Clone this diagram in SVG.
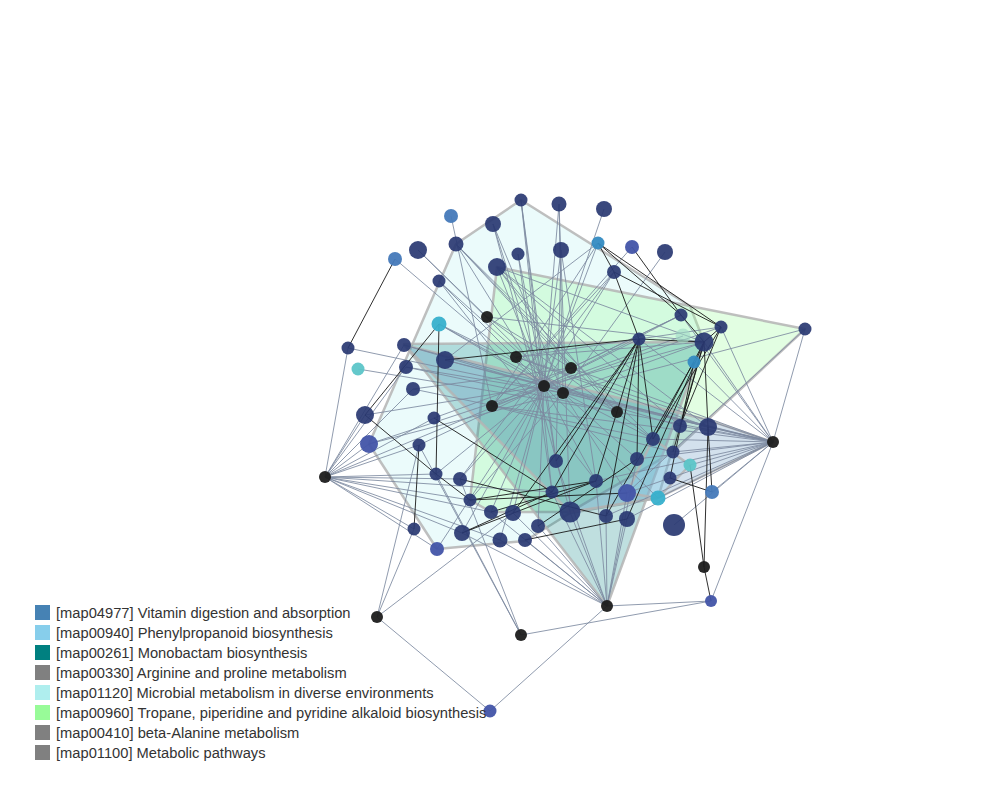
<svg xmlns="http://www.w3.org/2000/svg" width="1000" height="800" viewBox="0 0 1000 800">
<style>
.hull{stroke:#b4b4b4;stroke-width:2.5;stroke-opacity:0.85;stroke-linejoin:round}
.g line{stroke:#7d8aa0;stroke-width:1;stroke-opacity:0.85}
.k line{stroke:#1a1a1a;stroke-width:1;stroke-opacity:0.9}
.nv{fill:#293872;fill-opacity:0.92}
.bk{fill:#1c1c1c;fill-opacity:0.95}
.sb{fill:#4479b9;fill-opacity:0.95}
.cb{fill:#348bc2;fill-opacity:0.95}
.mb{fill:#4254a8;fill-opacity:0.95}
.cy{fill:#37b0cc;fill-opacity:0.95}
.tl{fill:#5cc5c8;fill-opacity:0.95}
.fd{fill:#9fd8c4;fill-opacity:0.6}
.lg{font-family:"Liberation Sans",Arial,sans-serif;font-size:14.7px;fill:#333}
</style>
<rect width="1000" height="800" fill="#fff"/>
<g id="hulls">
<polygon class="hull" fill="#afeeee" fill-opacity="0.25" points="521,200 690,306 704,342 658,498 570,513 525,541 437,549 369,444 456,244"/>
<polygon class="hull" fill="#98fb98" fill-opacity="0.28" points="497,267 690,306 805,329 673,452 570,512 491,512 470,500"/>
<polygon class="hull" fill="#008080" fill-opacity="0.25" points="404,344 704,342 607,606"/>
<polygon class="hull" fill="#4682b4" fill-opacity="0.24" points="404,345 708,420 773,442 658,498 570,512"/>
<polygon class="hull" fill="#87ceeb" fill-opacity="0.3" points="653,439 690,465 658,498 627,493"/>
</g>
<g id="connectors">
<g class="g">
<line x1="521" y1="200" x2="544" y2="386"/><line x1="521" y1="200" x2="556" y2="461"/><line x1="521" y1="200" x2="552" y2="492"/>
<line x1="559" y1="204" x2="544" y2="386"/><line x1="559" y1="204" x2="563" y2="393"/><line x1="559" y1="204" x2="570" y2="512"/>
<line x1="604" y1="209" x2="544" y2="386"/>
<line x1="451" y1="216" x2="492" y2="406"/>
<line x1="493" y1="224" x2="544" y2="386"/><line x1="493" y1="224" x2="570" y2="512"/><line x1="493" y1="224" x2="563" y2="393"/>
<line x1="418" y1="250" x2="487" y2="317"/><line x1="418" y1="250" x2="563" y2="393"/>
<line x1="456" y1="244" x2="544" y2="386"/><line x1="456" y1="244" x2="617" y2="412"/><line x1="456" y1="244" x2="571" y2="368"/><line x1="456" y1="244" x2="653" y2="439"/>
<line x1="518" y1="254" x2="544" y2="386"/><line x1="518" y1="254" x2="552" y2="492"/>
<line x1="561" y1="250" x2="544" y2="386"/><line x1="561" y1="250" x2="556" y2="461"/><line x1="561" y1="250" x2="596" y2="481"/>
<line x1="598" y1="243" x2="544" y2="386"/><line x1="598" y1="243" x2="492" y2="406"/><line x1="598" y1="243" x2="445" y2="360"/>
<line x1="632" y1="247" x2="492" y2="406"/>
<line x1="665" y1="252" x2="563" y2="393"/>
<line x1="395" y1="259" x2="544" y2="386"/>
<line x1="497" y1="267" x2="544" y2="386"/><line x1="497" y1="267" x2="617" y2="412"/><line x1="497" y1="267" x2="571" y2="368"/><line x1="497" y1="267" x2="680" y2="426"/><line x1="497" y1="267" x2="708" y2="427"/><line x1="497" y1="267" x2="704" y2="342"/>
<line x1="439" y1="281" x2="544" y2="386"/><line x1="439" y1="281" x2="563" y2="393"/><line x1="439" y1="281" x2="596" y2="481"/>
<line x1="614" y1="272" x2="544" y2="386"/><line x1="614" y1="272" x2="492" y2="406"/><line x1="614" y1="272" x2="460" y2="479"/>
<line x1="487" y1="317" x2="571" y2="368"/><line x1="487" y1="317" x2="704" y2="342"/><line x1="487" y1="317" x2="653" y2="439"/>
<line x1="439" y1="324" x2="544" y2="386"/><line x1="439" y1="324" x2="563" y2="393"/><line x1="439" y1="324" x2="617" y2="412"/>
<line x1="348" y1="348" x2="325" y2="477"/><line x1="348" y1="348" x2="563" y2="393"/>
<line x1="404" y1="345" x2="325" y2="477"/><line x1="404" y1="345" x2="544" y2="386"/><line x1="404" y1="345" x2="708" y2="427"/>
<line x1="445" y1="360" x2="544" y2="386"/><line x1="445" y1="360" x2="773" y2="442"/>
<line x1="358" y1="369" x2="617" y2="412"/>
<line x1="406" y1="367" x2="325" y2="477"/><line x1="406" y1="367" x2="563" y2="393"/><line x1="406" y1="367" x2="617" y2="412"/>
<line x1="413" y1="389" x2="325" y2="477"/><line x1="413" y1="389" x2="571" y2="368"/><line x1="413" y1="389" x2="653" y2="439"/>
<line x1="365" y1="415" x2="325" y2="477"/><line x1="365" y1="415" x2="544" y2="386"/>
<line x1="434" y1="418" x2="325" y2="477"/><line x1="434" y1="418" x2="571" y2="368"/>
<line x1="369" y1="444" x2="325" y2="477"/><line x1="369" y1="444" x2="544" y2="386"/><line x1="369" y1="444" x2="563" y2="393"/>
<line x1="419" y1="445" x2="325" y2="477"/><line x1="419" y1="445" x2="544" y2="386"/>
<line x1="681" y1="315" x2="773" y2="442"/><line x1="681" y1="315" x2="492" y2="406"/><line x1="681" y1="315" x2="544" y2="386"/>
<line x1="721" y1="327" x2="773" y2="442"/><line x1="721" y1="327" x2="492" y2="406"/>
<line x1="683" y1="336" x2="544" y2="386"/>
<line x1="704" y1="342" x2="773" y2="442"/><line x1="704" y1="342" x2="544" y2="386"/><line x1="704" y1="342" x2="563" y2="393"/>
<line x1="639" y1="339" x2="773" y2="442"/><line x1="639" y1="339" x2="544" y2="386"/>
<line x1="694" y1="362" x2="773" y2="442"/>
<line x1="805" y1="329" x2="773" y2="442"/><line x1="805" y1="329" x2="627" y2="493"/><line x1="805" y1="329" x2="563" y2="393"/>
<line x1="708" y1="427" x2="773" y2="442"/><line x1="708" y1="427" x2="544" y2="386"/>
<line x1="680" y1="426" x2="773" y2="442"/><line x1="680" y1="426" x2="544" y2="386"/>
<line x1="653" y1="439" x2="773" y2="442"/><line x1="653" y1="439" x2="563" y2="393"/>
<line x1="673" y1="452" x2="773" y2="442"/><line x1="673" y1="452" x2="492" y2="406"/>
<line x1="690" y1="465" x2="773" y2="442"/>
<line x1="637" y1="459" x2="773" y2="442"/><line x1="637" y1="459" x2="563" y2="393"/><line x1="637" y1="459" x2="607" y2="606"/>
<line x1="556" y1="461" x2="544" y2="386"/><line x1="556" y1="461" x2="607" y2="606"/>
<line x1="596" y1="481" x2="773" y2="442"/><line x1="596" y1="481" x2="607" y2="606"/><line x1="596" y1="481" x2="544" y2="386"/>
<line x1="627" y1="493" x2="773" y2="442"/><line x1="627" y1="493" x2="607" y2="606"/><line x1="627" y1="493" x2="563" y2="393"/>
<line x1="712" y1="492" x2="773" y2="442"/>
<line x1="658" y1="498" x2="773" y2="442"/><line x1="658" y1="498" x2="544" y2="386"/>
<line x1="674" y1="525" x2="773" y2="442"/>
<line x1="325" y1="477" x2="436" y2="474"/><line x1="325" y1="477" x2="460" y2="479"/><line x1="325" y1="477" x2="470" y2="500"/><line x1="325" y1="477" x2="491" y2="512"/><line x1="325" y1="477" x2="462" y2="533"/><line x1="325" y1="477" x2="500" y2="540"/><line x1="325" y1="477" x2="414" y2="529"/><line x1="325" y1="477" x2="437" y2="549"/><line x1="325" y1="477" x2="544" y2="386"/><line x1="325" y1="477" x2="552" y2="492"/>
<line x1="436" y1="474" x2="544" y2="386"/>
<line x1="460" y1="479" x2="544" y2="386"/><line x1="460" y1="479" x2="521" y2="635"/>
<line x1="470" y1="500" x2="563" y2="393"/>
<line x1="552" y1="492" x2="607" y2="606"/>
<line x1="491" y1="512" x2="544" y2="386"/><line x1="491" y1="512" x2="607" y2="606"/>
<line x1="513" y1="513" x2="544" y2="386"/><line x1="513" y1="513" x2="607" y2="606"/>
<line x1="570" y1="512" x2="607" y2="606"/>
<line x1="606" y1="516" x2="607" y2="606"/><line x1="606" y1="516" x2="773" y2="442"/>
<line x1="627" y1="519" x2="607" y2="606"/><line x1="627" y1="519" x2="773" y2="442"/>
<line x1="538" y1="526" x2="544" y2="386"/><line x1="538" y1="526" x2="607" y2="606"/>
<line x1="462" y1="533" x2="607" y2="606"/><line x1="462" y1="533" x2="544" y2="386"/>
<line x1="500" y1="540" x2="607" y2="606"/><line x1="500" y1="540" x2="544" y2="386"/>
<line x1="525" y1="540" x2="607" y2="606"/>
<line x1="414" y1="529" x2="377" y2="617"/>
<line x1="437" y1="549" x2="544" y2="386"/>
<line x1="607" y1="606" x2="490" y2="711"/><line x1="607" y1="606" x2="711" y2="601"/>
<line x1="711" y1="601" x2="773" y2="442"/><line x1="711" y1="601" x2="521" y2="635"/>
<line x1="377" y1="617" x2="490" y2="711"/><line x1="377" y1="617" x2="419" y2="445"/><line x1="377" y1="617" x2="513" y2="513"/>
<line x1="521" y1="635" x2="436" y2="474"/><line x1="521" y1="635" x2="419" y2="445"/>
<line x1="516" y1="357" x2="708" y2="427"/><line x1="516" y1="357" x2="773" y2="442"/><line x1="516" y1="357" x2="704" y2="342"/><line x1="516" y1="357" x2="721" y2="327"/>
<line x1="571" y1="368" x2="773" y2="442"/><line x1="571" y1="368" x2="681" y2="315"/>
<line x1="544" y1="386" x2="773" y2="442"/><line x1="563" y1="393" x2="773" y2="442"/><line x1="492" y1="406" x2="773" y2="442"/><line x1="617" y1="412" x2="773" y2="442"/>
</g>
<g class="k">
<line x1="395" y1="259" x2="348" y2="348"/>
<line x1="439" y1="324" x2="365" y2="415"/><line x1="439" y1="324" x2="436" y2="474"/>
<line x1="365" y1="415" x2="436" y2="474"/><line x1="436" y1="474" x2="470" y2="500"/>
<line x1="470" y1="500" x2="627" y2="493"/><line x1="470" y1="500" x2="596" y2="481"/>
<line x1="434" y1="418" x2="552" y2="492"/>
<line x1="419" y1="445" x2="414" y2="529"/>
<line x1="445" y1="360" x2="639" y2="339"/>
<line x1="598" y1="243" x2="614" y2="272"/><line x1="598" y1="243" x2="681" y2="315"/><line x1="598" y1="243" x2="721" y2="327"/>
<line x1="632" y1="247" x2="681" y2="315"/>
<line x1="614" y1="272" x2="639" y2="339"/><line x1="614" y1="272" x2="721" y2="327"/>
<line x1="681" y1="315" x2="704" y2="342"/><line x1="721" y1="327" x2="704" y2="342"/><line x1="639" y1="339" x2="704" y2="342"/>
<line x1="721" y1="327" x2="680" y2="426"/><line x1="721" y1="327" x2="653" y2="439"/>
<line x1="639" y1="339" x2="653" y2="439"/><line x1="639" y1="339" x2="637" y2="459"/><line x1="639" y1="339" x2="596" y2="481"/><line x1="639" y1="339" x2="552" y2="492"/><line x1="639" y1="339" x2="606" y2="516"/><line x1="639" y1="339" x2="513" y2="513"/><line x1="639" y1="339" x2="556" y2="461"/>
<line x1="704" y1="342" x2="680" y2="426"/><line x1="704" y1="342" x2="653" y2="439"/><line x1="704" y1="342" x2="673" y2="452"/><line x1="704" y1="342" x2="627" y2="519"/><line x1="704" y1="342" x2="708" y2="427"/>
<line x1="694" y1="362" x2="670" y2="478"/><line x1="694" y1="362" x2="606" y2="516"/>
<line x1="670" y1="478" x2="712" y2="492"/><line x1="712" y1="492" x2="708" y2="427"/>
<line x1="708" y1="427" x2="704" y2="567"/><line x1="704" y1="567" x2="711" y2="601"/><line x1="690" y1="465" x2="704" y2="567"/>
<line x1="552" y1="492" x2="462" y2="533"/><line x1="596" y1="481" x2="462" y2="533"/><line x1="491" y1="512" x2="596" y2="481"/>
<line x1="627" y1="519" x2="525" y2="540"/><line x1="460" y1="479" x2="606" y2="516"/><line x1="538" y1="526" x2="637" y2="459"/>
</g>
</g>
<g id="nodes">
<g id="n1"><circle class="nv" cx="521" cy="200" r="6.5"/></g>
<g id="n2"><circle class="nv" cx="559" cy="204" r="7.5"/></g>
<g id="n3"><circle class="nv" cx="604" cy="209" r="8"/></g>
<g id="n4"><circle class="sb" cx="451" cy="216" r="7"/></g>
<g id="n5"><circle class="nv" cx="493" cy="224" r="8"/></g>
<g id="n6"><circle class="nv" cx="418" cy="250" r="9"/></g>
<g id="n7"><circle class="nv" cx="456" cy="244" r="7.5"/></g>
<g id="n8"><circle class="nv" cx="518" cy="254" r="6.5"/></g>
<g id="n9"><circle class="nv" cx="561" cy="250" r="8"/></g>
<g id="n10"><circle class="cb" cx="598" cy="243" r="6.5"/></g>
<g id="n11"><circle class="mb" cx="632" cy="247" r="7"/></g>
<g id="n12"><circle class="nv" cx="665" cy="252" r="8"/></g>
<g id="n13"><circle class="sb" cx="395" cy="259" r="7"/></g>
<g id="n14"><circle class="nv" cx="497" cy="267" r="9"/></g>
<g id="n15"><circle class="nv" cx="439" cy="281" r="6.5"/></g>
<g id="n16"><circle class="nv" cx="614" cy="272" r="7"/></g>
<g id="n17"><circle class="bk" cx="487" cy="317" r="6"/></g>
<g id="n18"><circle class="cy" cx="439" cy="324" r="7.5"/></g>
<g id="n19"><circle class="nv" cx="348" cy="348" r="6.5"/></g>
<g id="n20"><circle class="nv" cx="404" cy="345" r="7"/></g>
<g id="n21"><circle class="nv" cx="445" cy="360" r="9"/></g>
<g id="n22"><circle class="bk" cx="516" cy="357" r="6"/></g>
<g id="n23"><circle class="bk" cx="571" cy="368" r="6"/></g>
<g id="n24"><circle class="tl" cx="358" cy="369" r="6.5"/></g>
<g id="n25"><circle class="nv" cx="406" cy="367" r="7"/></g>
<g id="n26"><circle class="bk" cx="544" cy="386" r="6"/></g>
<g id="n27"><circle class="bk" cx="563" cy="393" r="6"/></g>
<g id="n28"><circle class="nv" cx="413" cy="389" r="7"/></g>
<g id="n29"><circle class="bk" cx="492" cy="406" r="6"/></g>
<g id="n30"><circle class="nv" cx="365" cy="415" r="9"/></g>
<g id="n31"><circle class="nv" cx="434" cy="418" r="6.5"/></g>
<g id="n32"><circle class="bk" cx="617" cy="412" r="6"/></g>
<g id="n33"><circle class="mb" cx="369" cy="444" r="9"/></g>
<g id="n34"><circle class="nv" cx="419" cy="445" r="6.5"/></g>
<g id="n35"><circle class="nv" cx="681" cy="315" r="6.5"/></g>
<g id="n36"><circle class="nv" cx="721" cy="327" r="6.5"/></g>
<g id="n37"><circle class="fd" cx="683" cy="336" r="7.5"/></g>
<g id="n38"><circle class="nv" cx="704" cy="342" r="9.5"/></g>
<g id="n39"><circle class="nv" cx="639" cy="339" r="6.5"/></g>
<g id="n40"><circle class="cb" cx="694" cy="362" r="6.5"/></g>
<g id="n41"><circle class="nv" cx="805" cy="329" r="6.5"/></g>
<g id="n42"><circle class="nv" cx="708" cy="427" r="9"/></g>
<g id="n43"><circle class="nv" cx="680" cy="426" r="7"/></g>
<g id="n44"><circle class="nv" cx="653" cy="439" r="7"/></g>
<g id="n45"><circle class="nv" cx="673" cy="452" r="6.5"/></g>
<g id="n46"><circle class="bk" cx="773" cy="442" r="6"/></g>
<g id="n47"><circle class="tl" cx="690" cy="465" r="6.5"/></g>
<g id="n48"><circle class="nv" cx="637" cy="459" r="7"/></g>
<g id="n49"><circle class="nv" cx="556" cy="461" r="7"/></g>
<g id="n50"><circle class="nv" cx="670" cy="478" r="6.5"/></g>
<g id="n51"><circle class="nv" cx="596" cy="481" r="7"/></g>
<g id="n52"><circle class="mb" cx="627" cy="493" r="9"/></g>
<g id="n53"><circle class="sb" cx="712" cy="492" r="7"/></g>
<g id="n54"><circle class="cy" cx="658" cy="498" r="7.5"/></g>
<g id="n55"><circle class="nv" cx="674" cy="525" r="11"/></g>
<g id="n56"><circle class="bk" cx="325" cy="477" r="6"/></g>
<g id="n57"><circle class="nv" cx="436" cy="474" r="6.5"/></g>
<g id="n58"><circle class="nv" cx="460" cy="479" r="7"/></g>
<g id="n59"><circle class="nv" cx="470" cy="500" r="6.5"/></g>
<g id="n60"><circle class="nv" cx="552" cy="492" r="6.5"/></g>
<g id="n61"><circle class="nv" cx="491" cy="512" r="7"/></g>
<g id="n62"><circle class="nv" cx="513" cy="513" r="8"/></g>
<g id="n63"><circle class="nv" cx="570" cy="512" r="10.5"/></g>
<g id="n64"><circle class="nv" cx="606" cy="516" r="7"/></g>
<g id="n65"><circle class="nv" cx="627" cy="519" r="8"/></g>
<g id="n66"><circle class="nv" cx="538" cy="526" r="7"/></g>
<g id="n67"><circle class="nv" cx="462" cy="533" r="8"/></g>
<g id="n68"><circle class="nv" cx="500" cy="540" r="7.5"/></g>
<g id="n69"><circle class="nv" cx="525" cy="540" r="7"/></g>
<g id="n70"><circle class="nv" cx="414" cy="529" r="6.5"/></g>
<g id="n71"><circle class="mb" cx="437" cy="549" r="7"/></g>
<g id="n72"><circle class="bk" cx="704" cy="567" r="6"/></g>
<g id="n73"><circle class="bk" cx="607" cy="606" r="6"/></g>
<g id="n74"><circle class="mb" cx="711" cy="601" r="6"/></g>
<g id="n75"><circle class="bk" cx="377" cy="617" r="6"/></g>
<g id="n76"><circle class="bk" cx="521" cy="635" r="6"/></g>
<g id="n77"><circle class="mb" cx="490" cy="711" r="6.5"/></g>
</g>
<g id="legend">
<rect x="35" y="605" width="15" height="15" fill="#4682b4"/><text class="lg" x="56" y="617.5">[map04977] Vitamin digestion and absorption</text>
<rect x="35" y="625" width="15" height="15" fill="#87ceeb"/><text class="lg" x="56" y="637.5">[map00940] Phenylpropanoid biosynthesis</text>
<rect x="35" y="645" width="15" height="15" fill="#008080"/><text class="lg" x="56" y="657.5">[map00261] Monobactam biosynthesis</text>
<rect x="35" y="665" width="15" height="15" fill="#808080"/><text class="lg" x="56" y="677.5">[map00330] Arginine and proline metabolism</text>
<rect x="35" y="685" width="15" height="15" fill="#afeeee"/><text class="lg" x="56" y="697.5">[map01120] Microbial metabolism in diverse environments</text>
<rect x="35" y="705" width="15" height="15" fill="#98fb98"/><text class="lg" x="56" y="717.5">[map00960] Tropane, piperidine and pyridine alkaloid biosynthesis</text>
<rect x="35" y="725" width="15" height="15" fill="#808080"/><text class="lg" x="56" y="737.5">[map00410] beta-Alanine metabolism</text>
<rect x="35" y="745" width="15" height="15" fill="#808080"/><text class="lg" x="56" y="757.5">[map01100] Metabolic pathways</text>
</g>
</svg>
